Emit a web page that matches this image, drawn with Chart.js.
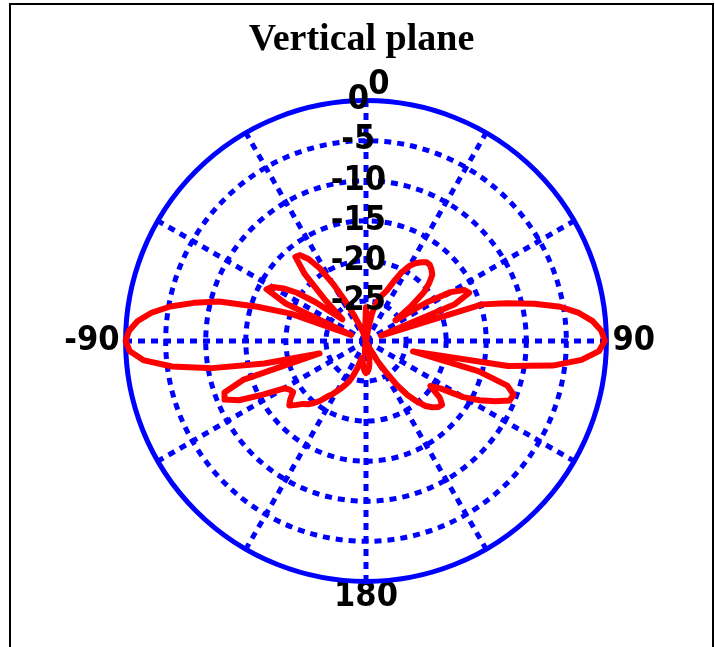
<!DOCTYPE html>
<html>
<head>
<meta charset="utf-8">
<script src="https://cdn.jsdelivr.net/npm/chart.js@4.4.1/dist/chart.umd.min.js"></script>
<style>
  html, body { margin: 0; padding: 0; background: #fff; }
  #frame { position: absolute; left: 9px; top: 3px; width: 705px; height: 700px; border: 2px solid #000; box-sizing: border-box; }
  #chart { position: absolute; left: 0; top: 0; }
</style>
</head>
<body>
<div id="frame"></div>
<canvas id="chart" width="715" height="647"></canvas>
<script>
// gain in dB every 2.5 deg, clockwise from 0 (top)
var angleStep = 2.5;
var gainRight = [ // 0 .. 180
  -25.8, -27.5, -31.5, -31, -28.5, -26.4, -25.2, -24.3, -23.8, -23.2,
  -21.8, -20.3, -19.2, -18.5, -18, -17.6, -17.6, -17.9, -18.3, -19.3,
  -20.6, -23, -25.5, -21, -17.8, -16.2, -15.8, -18, -28, -14.8,
  -11.8, -8.5, -5.4, -3.2, -1.6, -0.6, -0.2, -0.9, -3, -6.5,
  -12, -24, -15.5, -11.5, -10.4, -10.6, -12.2, -14, -16, -19,
  -20.2, -18.4, -17.6, -17.8, -18.3, -19, -20.2, -21.5, -23.3, -25.5,
  -27, -28.5, -29.5, -30.3, -30.8, -30.4, -29.5, -28.5, -27.6, -26.9,
  -26.4, -26.1, -26
];
var gainLeft = [ // -177.5 .. -2.5
  -26.2, -26.6, -27.1, -27.6, -27.9, -27.6, -26.5, -25.5, -24.6, -24,
  -23.4, -22.8, -22.1, -21.5, -20.6, -19.9, -19.3, -18.9, -18.2, -17.5,
  -18.1, -18.9, -18.7, -18.2, -15.5, -12.5, -10.9, -11.2, -14, -24,
  -17, -10.5, -5.6, -2.2, -0.5, 0, -0.4, -1.4, -3, -5.2,
  -8, -11, -15.8, -20, -28, -19, -16, -16.5, -17.8, -19.5,
  -22, -24.6, -26, -23, -18.7, -16.3, -16.5, -17.5, -19.2, -21.8,
  -24.3, -26.5, -27.8, -28.6, -29, -29.5, -30.5, -31.5, -31.5, -30.5,
  -28
];
var gainDb = gainRight.concat(gainLeft);

var ringTicks = [0, -5, -10, -15, -20, -25, -30];
var spokeAngles = [0, 30, 60, 90, 120, 150, 180, 210, 240, 270, 300, 330];
var rimAngles = [0, 90, 180, 270];
var rimText = ['0', '90', '180', '-90'];

var angles = gainDb.map(function (v, i) { return i * angleStep; });

var blue = '#0000ff';
var numFont = { family: '"Liberation Sans Narrow", "DejaVu Sans Condensed", sans-serif', size: 34, weight: 'bold', lineHeight: 0.9 };

var c = document.getElementById('chart');
var chart = new Chart(c, {
  type: 'radar',
  data: {
    labels: angles,
    datasets: [{
      data: gainDb,
      borderColor: '#ff0000',
      borderWidth: 6,
      borderJoinStyle: 'round',
      pointRadius: 0,
      fill: false,
      tension: 0
    }]
  },
  options: {
    responsive: false,
    animation: false,
    layout: { padding: { left: 40, right: 32, top: 0, bottom: 34 } },
    plugins: {
      legend: { display: false },
      tooltip: { enabled: false },
      title: {
        display: true,
        text: 'Vertical plane',
        color: '#000',
        font: { family: '"Liberation Serif", "Times New Roman", serif', size: 38, weight: 'bold', lineHeight: 1.2 },
        padding: { top: 17, bottom: 8.4 }
      }
    },
    scales: {
      r: {
        min: ringTicks[ringTicks.length - 1],
        max: ringTicks[0],
        startAngle: 0,
        ticks: {
          stepSize: 5,
          z: 1,
          color: '#000',
          font: numFont,
          showLabelBackdrop: false,
          backdropPadding: -17,
          callback: function (v) { return v === -30 ? '' : v + '\u2002'; }
        },
        grid: { circular: true, color: blue, lineWidth: 5 },
        border: { dash: function (ctx) { return ctx.tick && ctx.tick.value === 0 ? [] : [7, 6]; } },
        angleLines: {
          color: blue,
          borderDash: [7, 6],
          lineWidth: function (ctx) { return spokeAngles.indexOf(angles[ctx.index]) >= 0 ? 5 : 0; }
        },
        pointLabels: {
          color: '#000',
          font: numFont,
          padding: function (ctx) {
            var a = angles[ctx.index];
            if (rimAngles.indexOf(a) < 0) return -100;
            return (a === 90 || a === 270) ? 6 : 0;
          },
          callback: function (label) {
            var k = rimAngles.indexOf(label);
            if (k < 0) return '';
            return label === 0 ? '\u2002 ' + rimText[k] : rimText[k];
          }
        }
      }
    }
  }
});
</script>
</body>
</html>
